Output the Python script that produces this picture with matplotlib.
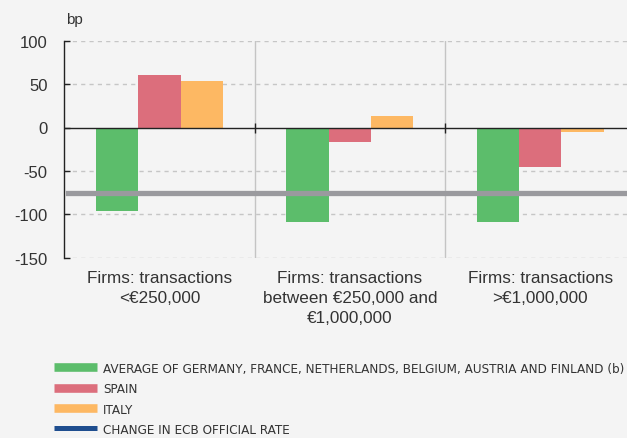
import matplotlib
matplotlib.use('Agg')
import matplotlib.pyplot as plt
from matplotlib.lines import Line2D
import numpy as np

categories = ['Firms: transactions\n<€250,000',
              'Firms: transactions\nbetween €250,000 and\n€1,000,000',
              'Firms: transactions\n>€1,000,000']
avg_core = [-96, -109, -109]
spain = [61, -17, -46]
italy = [53, 13, -5]
ecb_change = -75

series_labels = ['AVERAGE OF GERMANY, FRANCE, NETHERLANDS, BELGIUM, AUSTRIA AND FINLAND (b)',
                 'SPAIN', 'ITALY', 'CHANGE IN ECB OFFICIAL RATE']
yticks = [100, 50, 0, -50, -100, -150]

GREEN = '#5cbd6b'
RED = '#dc6e7c'
ORANGE = '#fdb863'
BLUE = '#1f4e8f'
GREY_LINE = '#9a9a9e'
BG = '#f4f4f4'
TXT = '#333333'

plt.rcParams['font.family'] = ['Liberation Sans', 'DejaVu Sans']

W, H = 627, 439
fig = plt.figure(figsize=(W / 100, H / 100), dpi=100, facecolor=BG)
ax = fig.add_axes([64.3 / W, 1 - 258.7 / H, (635.4 - 64.3) / W, (258.7 - 41.7) / H])
ax.set_facecolor(BG)

x = np.arange(len(categories))
bw = 0.222
ax.bar(x - bw, avg_core, bw, color=GREEN, zorder=3)
ax.bar(x, spain, bw, color=RED, zorder=3)
ax.bar(x + bw, italy, bw, color=ORANGE, zorder=3)

# ECB official rate change
ax.axhline(ecb_change, xmin=0.007, xmax=1, color=GREY_LINE, lw=3.8, zorder=4)

ax.set_xlim(-0.5, len(categories) - 0.5)
ax.set_ylim(yticks[-1], yticks[0])
ax.set_yticks(yticks)
ax.set_yticklabels([str(v) for v in yticks])
for v in yticks:
    if v != 0:
        ax.axhline(v, color='#c6c6c6', lw=1, ls=(0, (3, 3)), zorder=1)
ax.axhline(0, color='#222222', lw=1, zorder=5)

# separators between groups
seps = x[:-1] + 0.5
for s in seps:
    ax.axvline(s, color='#c4c4c4', lw=1, zorder=1)
ax.plot(seps, np.zeros_like(seps), '|', color='#222222', ms=7, mew=1, zorder=6)

ax.set_xticks(x)
ax.set_xticklabels(categories, fontsize=12.3, color=TXT, linespacing=1.42)
ax.tick_params(axis='x', length=0, pad=9)
ax.tick_params(axis='y', direction='in', length=4, width=1, color='#222222',
               labelsize=12, labelcolor=TXT, pad=12)

for side in ['top', 'right', 'bottom']:
    ax.spines[side].set_visible(False)
ax.spines['left'].set_color('#222222')
ax.spines['left'].set_linewidth(1)

fig.text(66 / W, 1 - 20 / H, 'bp', fontsize=11, color=TXT, va='center', ha='left')

handles = [Line2D([], [], color=GREEN, lw=6.2, solid_capstyle='butt'),
           Line2D([], [], color=RED, lw=6.2, solid_capstyle='butt'),
           Line2D([], [], color=ORANGE, lw=6.2, solid_capstyle='butt'),
           Line2D([], [], color=BLUE, lw=3.6, solid_capstyle='butt')]
leg = fig.legend(handles, series_labels, loc='upper left',
                 bbox_to_anchor=(54 / W, 1 - 363 / H), frameon=False,
                 borderpad=0, borderaxespad=0, handlelength=3.2, handletextpad=0.5,
                 labelspacing=0.55,
                 prop={'family': 'DejaVu Sans', 'stretch': 'condensed', 'size': 9.6})
for t in leg.get_texts():
    t.set_color(TXT)

fig.savefig('out.png', dpi=100, facecolor=BG)
